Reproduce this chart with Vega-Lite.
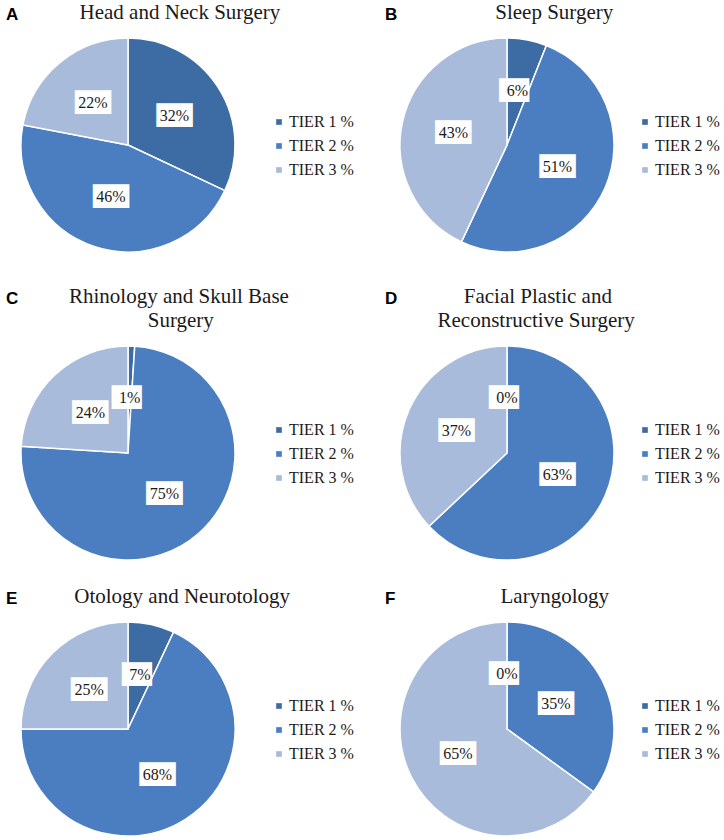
{
  "$schema": "https://vega.github.io/schema/vega-lite/v6.json",
  "background": "white",
  "padding": {"left": 6, "top": 2, "right": 0, "bottom": 0},
  "datasets": {
    "d": [
      {"panel": "A", "tier": "TIER 1 %", "pct": 32},
      {"panel": "A", "tier": "TIER 2 %", "pct": 46},
      {"panel": "A", "tier": "TIER 3 %", "pct": 22},
      {"panel": "B", "tier": "TIER 1 %", "pct": 6},
      {"panel": "B", "tier": "TIER 2 %", "pct": 51},
      {"panel": "B", "tier": "TIER 3 %", "pct": 43},
      {"panel": "C", "tier": "TIER 1 %", "pct": 1},
      {"panel": "C", "tier": "TIER 2 %", "pct": 75},
      {"panel": "C", "tier": "TIER 3 %", "pct": 24},
      {"panel": "D", "tier": "TIER 1 %", "pct": 0},
      {"panel": "D", "tier": "TIER 2 %", "pct": 63},
      {"panel": "D", "tier": "TIER 3 %", "pct": 37},
      {"panel": "E", "tier": "TIER 1 %", "pct": 7},
      {"panel": "E", "tier": "TIER 2 %", "pct": 68},
      {"panel": "E", "tier": "TIER 3 %", "pct": 25},
      {"panel": "F", "tier": "TIER 1 %", "pct": 0},
      {"panel": "F", "tier": "TIER 2 %", "pct": 35},
      {"panel": "F", "tier": "TIER 3 %", "pct": 65}
    ]
  },
  "config": {
    "view": {"stroke": null},
    "title": {"font": "Liberation Sans", "fontSize": 17, "fontWeight": "bold", "color": "#000", "anchor": "start", "dx": -12, "offset": 7, "subtitleFont": "Liberation Serif", "subtitleFontSize": 21, "subtitleFontWeight": "normal", "subtitleColor": "#1a1a1a", "subtitleLineHeight": 24, "subtitlePadding": -22},
    "legend": {"title": null, "orient": "none", "legendX": 250, "legendY": 76, "symbolType": "square", "symbolSize": 32, "symbolStrokeWidth": 0, "labelFont": "Liberation Serif", "labelFontSize": 16, "labelColor": "#1a1a1a", "rowPadding": 8, "labelOffset": 2, "padding": 0}
  },
  "resolve": {"scale": {"color": "independent"}, "legend": {"color": "independent"}},
  "spacing": 31,
  "vconcat": [
    {
      "spacing": 31,
      "resolve": {"scale": {"color": "independent"}, "legend": {"color": "independent"}},
      "hconcat": [
        {
          "width": 214, "height": 214,
          "title": {"text": "A", "subtitle": "\u200b\u00a0\u00a0\u00a0\u00a0\u00a0\u00a0\u00a0\u00a0\u00a0\u00a0\u00a0\u00a0\u00a0\u00a0Head and Neck Surgery"},
          "data": {"name": "d"},
          "transform": [{"filter": "datum.panel == 'A'"}, {"calculate": "datum.pct + '%'", "as": "label"}, {"calculate": "datum.pct >= 10 ? '███' : '██▌'", "as": "box"}],
          "encoding": {"theta": {"field": "pct", "type": "quantitative", "stack": true}, "order": {"field": "tier", "type": "ordinal"}},
          "layer": [
            {"mark": {"type": "arc", "stroke": "white", "strokeWidth": 1.5}, "encoding": {"color": {"field": "tier", "type": "nominal", "scale": {"domain": ["TIER 1 %", "TIER 2 %", "TIER 3 %"], "range": ["#3D6BA3", "#4A7EC0", "#A8BBDA"]}}}},
            {"mark": {"type": "text", "radius": 55, "font": "DejaVu Sans Mono", "fontSize": 20, "color": "white", "baseline": "middle"}, "encoding": {"text": {"field": "box"}}},
            {"mark": {"type": "text", "radius": 55, "font": "Liberation Serif", "fontSize": 16, "color": "#1a1a1a", "baseline": "middle"}, "encoding": {"text": {"field": "label"}}}
          ]
        },
        {
          "width": 214, "height": 214,
          "title": {"text": "B", "subtitle": "\u200b\u00a0\u00a0\u00a0\u00a0\u00a0\u00a0\u00a0\u00a0\u00a0\u00a0\u00a0\u00a0\u00a0\u00a0\u00a0\u00a0\u00a0\u00a0\u00a0\u00a0\u00a0Sleep Surgery"},
          "data": {"name": "d"},
          "transform": [{"filter": "datum.panel == 'B'"}, {"calculate": "datum.pct + '%'", "as": "label"}, {"calculate": "datum.pct >= 10 ? '███' : '██▌'", "as": "box"}],
          "encoding": {"theta": {"field": "pct", "type": "quantitative", "stack": true}, "order": {"field": "tier", "type": "ordinal"}},
          "layer": [
            {"mark": {"type": "arc", "stroke": "white", "strokeWidth": 1.5}, "encoding": {"color": {"field": "tier", "type": "nominal", "scale": {"domain": ["TIER 1 %", "TIER 2 %", "TIER 3 %"], "range": ["#3D6BA3", "#4A7EC0", "#A8BBDA"]}, "legend": {"legendX": 237}}}},
            {"mark": {"type": "text", "radius": 55, "font": "DejaVu Sans Mono", "fontSize": 20, "color": "white", "baseline": "middle"}, "encoding": {"text": {"field": "box"}}},
            {"mark": {"type": "text", "radius": 55, "font": "Liberation Serif", "fontSize": 16, "color": "#1a1a1a", "baseline": "middle"}, "encoding": {"text": {"field": "label"}}}
          ]
        }
      ]
    },
    {
      "spacing": 23,
      "resolve": {"scale": {"color": "independent"}, "legend": {"color": "independent"}},
      "vconcat": [
        {
          "spacing": 31,
          "resolve": {"scale": {"color": "independent"}, "legend": {"color": "independent"}},
          "hconcat": [
            {
              "width": 214, "height": 214,
              "title": {"text": "C", "subtitle": ["\u200b\u00a0\u00a0\u00a0\u00a0\u00a0\u00a0\u00a0\u00a0\u00a0\u00a0\u00a0\u00a0Rhinology and Skull Base", "\u200b\u00a0\u00a0\u00a0\u00a0\u00a0\u00a0\u00a0\u00a0\u00a0\u00a0\u00a0\u00a0\u00a0\u00a0\u00a0\u00a0\u00a0\u00a0\u00a0\u00a0\u00a0\u00a0\u00a0\u00a0\u00a0\u00a0\u00a0Surgery"]},
              "data": {"name": "d"},
              "transform": [{"filter": "datum.panel == 'C'"}, {"calculate": "datum.pct + '%'", "as": "label"}, {"calculate": "datum.pct >= 10 ? '███' : '██▌'", "as": "box"}],
              "encoding": {"theta": {"field": "pct", "type": "quantitative", "stack": true}, "order": {"field": "tier", "type": "ordinal"}},
              "layer": [
                {"mark": {"type": "arc", "stroke": "white", "strokeWidth": 1.5}, "encoding": {"color": {"field": "tier", "type": "nominal", "scale": {"domain": ["TIER 1 %", "TIER 2 %", "TIER 3 %"], "range": ["#3D6BA3", "#4A7EC0", "#A8BBDA"]}}}},
                {"mark": {"type": "text", "radius": 55, "font": "DejaVu Sans Mono", "fontSize": 20, "color": "white", "baseline": "middle"}, "encoding": {"text": {"field": "box"}}},
                {"mark": {"type": "text", "radius": 55, "font": "Liberation Serif", "fontSize": 16, "color": "#1a1a1a", "baseline": "middle"}, "encoding": {"text": {"field": "label"}}}
              ]
            },
            {
              "width": 214, "height": 214,
              "title": {"text": "D", "subtitle": ["\u200b\u00a0\u00a0\u00a0\u00a0\u00a0\u00a0\u00a0\u00a0\u00a0\u00a0\u00a0\u00a0\u00a0\u00a0\u00a0Facial Plastic and", "\u200b\u00a0\u00a0\u00a0\u00a0\u00a0\u00a0\u00a0\u00a0\u00a0\u00a0Reconstructive Surgery"]},
              "data": {"name": "d"},
              "transform": [{"filter": "datum.panel == 'D'"}, {"calculate": "datum.pct + '%'", "as": "label"}, {"calculate": "datum.pct >= 10 ? '███' : '██▌'", "as": "box"}],
              "encoding": {"theta": {"field": "pct", "type": "quantitative", "stack": true}, "order": {"field": "tier", "type": "ordinal"}},
              "layer": [
                {"mark": {"type": "arc", "stroke": "white", "strokeWidth": 1.5}, "encoding": {"color": {"field": "tier", "type": "nominal", "scale": {"domain": ["TIER 1 %", "TIER 2 %", "TIER 3 %"], "range": ["#3D6BA3", "#4A7EC0", "#A8BBDA"]}, "legend": {"legendX": 237}}}},
                {"mark": {"type": "text", "radius": 55, "font": "DejaVu Sans Mono", "fontSize": 20, "color": "white", "baseline": "middle"}, "encoding": {"text": {"field": "box"}}},
                {"mark": {"type": "text", "radius": 55, "font": "Liberation Serif", "fontSize": 16, "color": "#1a1a1a", "baseline": "middle"}, "encoding": {"text": {"field": "label"}}}
              ]
            }
          ]
        },
        {
          "spacing": 31,
          "resolve": {"scale": {"color": "independent"}, "legend": {"color": "independent"}},
          "hconcat": [
            {
              "width": 214, "height": 214,
              "title": {"text": "E", "subtitle": "\u200b\u00a0\u00a0\u00a0\u00a0\u00a0\u00a0\u00a0\u00a0\u00a0\u00a0\u00a0\u00a0\u00a0Otology and Neurotology"},
              "data": {"name": "d"},
              "transform": [{"filter": "datum.panel == 'E'"}, {"calculate": "datum.pct + '%'", "as": "label"}, {"calculate": "datum.pct >= 10 ? '███' : '██▌'", "as": "box"}],
              "encoding": {"theta": {"field": "pct", "type": "quantitative", "stack": true}, "order": {"field": "tier", "type": "ordinal"}},
              "layer": [
                {"mark": {"type": "arc", "stroke": "white", "strokeWidth": 1.5}, "encoding": {"color": {"field": "tier", "type": "nominal", "scale": {"domain": ["TIER 1 %", "TIER 2 %", "TIER 3 %"], "range": ["#3D6BA3", "#4A7EC0", "#A8BBDA"]}}}},
                {"mark": {"type": "text", "radius": 55, "font": "DejaVu Sans Mono", "fontSize": 20, "color": "white", "baseline": "middle"}, "encoding": {"text": {"field": "box"}}},
                {"mark": {"type": "text", "radius": 55, "font": "Liberation Serif", "fontSize": 16, "color": "#1a1a1a", "baseline": "middle"}, "encoding": {"text": {"field": "label"}}}
              ]
            },
            {
              "width": 214, "height": 214,
              "title": {"text": "F", "subtitle": "\u200b\u00a0\u00a0\u00a0\u00a0\u00a0\u00a0\u00a0\u00a0\u00a0\u00a0\u00a0\u00a0\u00a0\u00a0\u00a0\u00a0\u00a0\u00a0\u00a0\u00a0\u00a0\u00a0Laryngology"},
              "data": {"name": "d"},
              "transform": [{"filter": "datum.panel == 'F'"}, {"calculate": "datum.pct + '%'", "as": "label"}, {"calculate": "datum.pct >= 10 ? '███' : '██▌'", "as": "box"}],
              "encoding": {"theta": {"field": "pct", "type": "quantitative", "stack": true}, "order": {"field": "tier", "type": "ordinal"}},
              "layer": [
                {"mark": {"type": "arc", "stroke": "white", "strokeWidth": 1.5}, "encoding": {"color": {"field": "tier", "type": "nominal", "scale": {"domain": ["TIER 1 %", "TIER 2 %", "TIER 3 %"], "range": ["#3D6BA3", "#4A7EC0", "#A8BBDA"]}, "legend": {"legendX": 237}}}},
                {"mark": {"type": "text", "radius": 55, "font": "DejaVu Sans Mono", "fontSize": 20, "color": "white", "baseline": "middle"}, "encoding": {"text": {"field": "box"}}},
                {"mark": {"type": "text", "radius": 55, "font": "Liberation Serif", "fontSize": 16, "color": "#1a1a1a", "baseline": "middle"}, "encoding": {"text": {"field": "label"}}}
              ]
            }
          ]
        }
      ]
    }
  ]
}
